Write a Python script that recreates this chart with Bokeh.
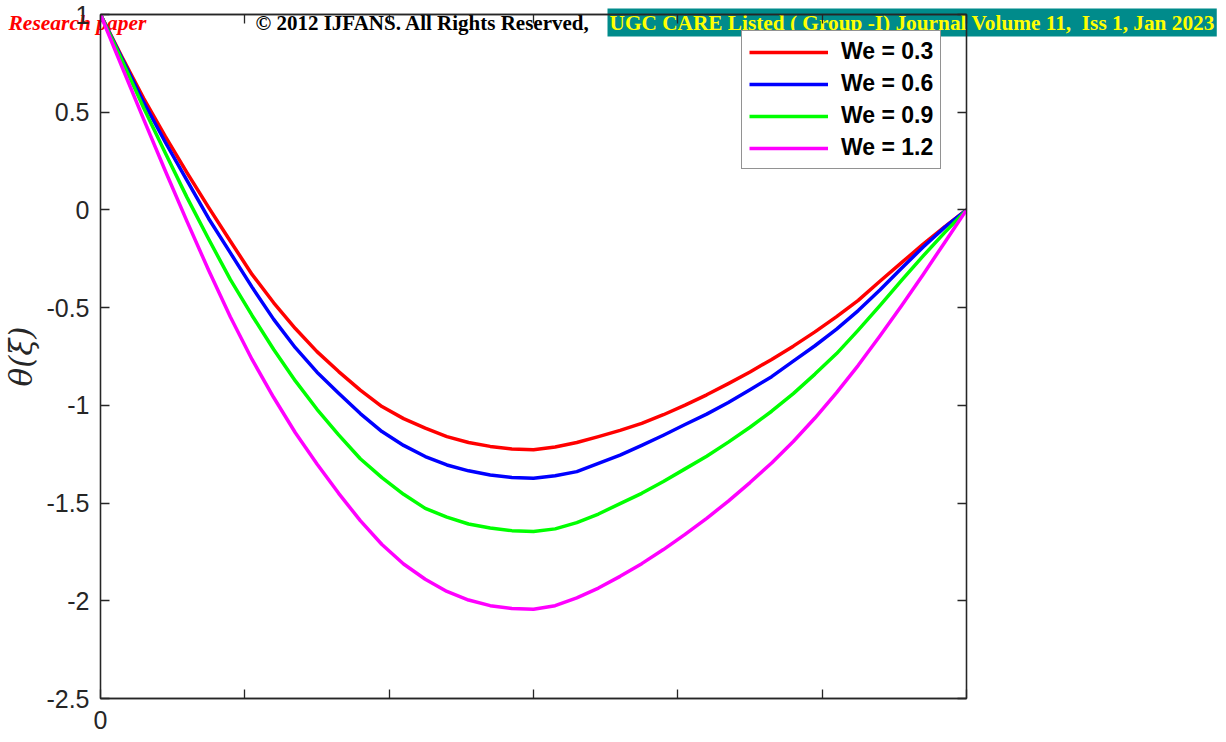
from bokeh.plotting import figure
from bokeh.models import Range1d, FixedTicker, CustomJSTickFormatter, LinearAxis, Label, Legend, LegendItem
from bokeh.embed import file_html
from bokeh.resources import INLINE

xi = [0.0, 0.025, 0.05, 0.075, 0.10, 0.125, 0.15, 0.175, 0.20, 0.225, 0.25, 0.275, 0.30, 0.325,
      0.35, 0.375, 0.40, 0.425, 0.45, 0.475, 0.50, 0.525, 0.55, 0.575, 0.60, 0.625, 0.65, 0.675,
      0.70, 0.725, 0.75, 0.775, 0.80, 0.825, 0.85, 0.875, 0.90, 0.925, 0.95, 0.975, 1.0]
theta_we03 = [1.0, 0.781, 0.57, 0.375, 0.19, 0.012, -0.16, -0.33, -0.475, -0.607, -0.725, -0.827, -0.922, -1.006,
              -1.068, -1.117, -1.16, -1.19, -1.21, -1.223, -1.227, -1.213, -1.19, -1.16, -1.128, -1.092, -1.048, -0.999,
              -0.946, -0.889, -0.829, -0.765, -0.697, -0.624, -0.546, -0.463, -0.365, -0.27, -0.175, -0.085, 0.0]
theta_we06 = [1.0, 0.773, 0.55, 0.345, 0.15, -0.045, -0.22, -0.395, -0.56, -0.705, -0.83, -0.938, -1.042, -1.134,
              -1.205, -1.262, -1.305, -1.335, -1.356, -1.369, -1.373, -1.36, -1.339, -1.297, -1.255, -1.205, -1.153, -1.098,
              -1.045, -0.985, -0.92, -0.853, -0.774, -0.695, -0.61, -0.515, -0.41, -0.298, -0.19, -0.088, 0.0]
theta_we09 = [1.0, 0.764, 0.52, 0.29, 0.063, -0.15, -0.357, -0.54, -0.714, -0.875, -1.02, -1.151, -1.273, -1.37,
              -1.455, -1.527, -1.572, -1.607, -1.628, -1.641, -1.646, -1.632, -1.60, -1.556, -1.503, -1.45, -1.39, -1.325,
              -1.26, -1.188, -1.112, -1.03, -0.94, -0.84, -0.735, -0.615, -0.49, -0.36, -0.235, -0.115, 0.0]
theta_we12 = [1.0, 0.73, 0.462, 0.198, -0.06, -0.31, -0.548, -0.765, -0.96, -1.14, -1.30, -1.45, -1.59, -1.712,
              -1.812, -1.89, -1.952, -1.996, -2.025, -2.039, -2.043, -2.025, -1.985, -1.935, -1.875, -1.81, -1.738, -1.66,
              -1.578, -1.49, -1.395, -1.295, -1.185, -1.065, -0.935, -0.795, -0.645, -0.49, -0.33, -0.165, 0.0]
series_labels = ["We = 0.3", "We = 0.6", "We = 0.9", "We = 1.2"]
series_colors = ["#FF0000", "#0000FF", "#00FF00", "#FF00FF"]
y_ticks = [-2.5, -2.0, -1.5, -1.0, -0.5, 0.0, 0.5, 1.0]
x_ticks = [0, 1/6, 2/6, 3/6, 4/6, 5/6, 1]
banner_texts = ["Research paper", "© 2012 IJFANS. All Rights Reserved,",
                "UGC CARE Listed ( Group -I) Journal Volume 11,\u00a0 Iss 1, Jan 2023"]

AX = "#262626"
HEADER_H = 40

# page banner strip: a separate root, the chart root is pulled up over it (transparent)
hdr = figure(width=1226, height=HEADER_H, output_backend="svg", toolbar_location=None,
             x_range=Range1d(0, 1226), y_range=Range1d(HEADER_H, 0),
             x_axis_location=None, y_axis_location=None,
             min_border=0, min_border_left=0, min_border_right=0, min_border_top=0, min_border_bottom=0,
             outline_line_color=None, border_fill_color=None, background_fill_color=None)
hdr.grid.visible = False
hdr.add_layout(Label(x=8, y=22, x_units="canvas", y_units="canvas", text=banner_texts[0],
                     text_font="Liberation Serif", text_font_style="bold italic", text_font_size="21.5px",
                     text_color="#FF0000", text_baseline="middle", text_align="left"))
hdr.add_layout(Label(x=255, y=22, x_units="canvas", y_units="canvas", text=banner_texts[1],
                     text_font="Liberation Serif", text_font_style="bold", text_font_size="21px",
                     text_color="black", text_baseline="middle", text_align="left"))
hdr.add_layout(Label(x=607, y=22, x_units="canvas", y_units="canvas", text=banner_texts[2],
                     text_font="Liberation Serif", text_font_style="bold", text_font_size="21.3px",
                     text_color="#FFFF00", text_baseline="middle", text_align="left",
                     background_fill_color="#008B8B", background_fill_alpha=1.0, padding=2))

p = figure(width=1226, height=742, output_backend="svg", toolbar_location=None,
           x_range=Range1d(0, 1), y_range=Range1d(-2.5, 1),
           min_border_left=98, min_border_right=260, min_border_top=14, min_border_bottom=44)
p.margin = (-HEADER_H, 0, 0, 0)
p.grid.visible = False
p.outline_line_color = AX
p.outline_line_width = 1.3
p.background_fill_color = None
p.border_fill_color = None

xa = p.xaxis[0]
ya = p.yaxis[0]
xa.ticker = FixedTicker(ticks=x_ticks)
xa.formatter = CustomJSTickFormatter(code="return Math.abs(tick) < 1e-9 ? '0' : '';")
ya.ticker = FixedTicker(ticks=y_ticks)
ya.formatter = CustomJSTickFormatter(code="return (Math.round(tick*10)/10).toString();")
for ax in (xa, ya):
    ax.axis_line_color = AX
    ax.axis_line_width = 1.3
    ax.major_tick_line_color = AX
    ax.major_tick_line_width = 1.3
    ax.major_tick_in = 9
    ax.major_tick_out = 0
    ax.minor_tick_line_color = None
    ax.major_label_text_font = "Liberation Sans"
    ax.major_label_text_font_size = "25px"
    ax.major_label_text_color = AX
xa.major_label_standoff = 12
ya.major_label_standoff = 11
ya.axis_label = "θ(ξ)"
ya.axis_label_text_font = "DejaVu Serif"
ya.axis_label_text_font_style = "italic"
ya.axis_label_text_font_size = "31px"
ya.axis_label_text_color = AX
ya.axis_label_standoff = 4

ra = LinearAxis(ticker=FixedTicker(ticks=y_ticks), axis_line_color=AX, axis_line_width=1.3,
                major_tick_line_color=AX, major_tick_line_width=1.3, major_tick_in=9, major_tick_out=0,
                minor_tick_line_color=None, major_label_text_font_size="0px", major_label_standoff=0)
ra.formatter = CustomJSTickFormatter(code="return '';")
p.add_layout(ra, "right")
ta = LinearAxis(ticker=FixedTicker(ticks=x_ticks), axis_line_color=AX, axis_line_width=1.3,
                major_tick_line_color=AX, major_tick_line_width=1.3, major_tick_in=9, major_tick_out=0,
                minor_tick_line_color=None, major_label_text_font_size="0px", major_label_standoff=0)
ta.formatter = CustomJSTickFormatter(code="return '';")
p.add_layout(ta, "above")

series = [theta_we03, theta_we06, theta_we09, theta_we12]
items = []
for ys, lab, col in zip(series, series_labels, series_colors):
    r = p.line(xi, ys, line_color=col, line_width=3.5, line_join="round")
    items.append(LegendItem(label=lab, renderers=[r]))

legend = Legend(items=items, location=(641, 529), orientation="vertical",
                label_text_font="Liberation Sans", label_text_font_style="bold",
                label_text_font_size="23px", label_text_color="black",
                glyph_width=79, glyph_height=22, label_height=22, label_standoff=13,
                spacing=5, padding=7, margin=0,
                border_line_color=AX, border_line_width=1.3,
                background_fill_color="white", background_fill_alpha=1.0)
p.add_layout(legend, "center")

open("out.html", "w").write(file_html([hdr, p], INLINE))
